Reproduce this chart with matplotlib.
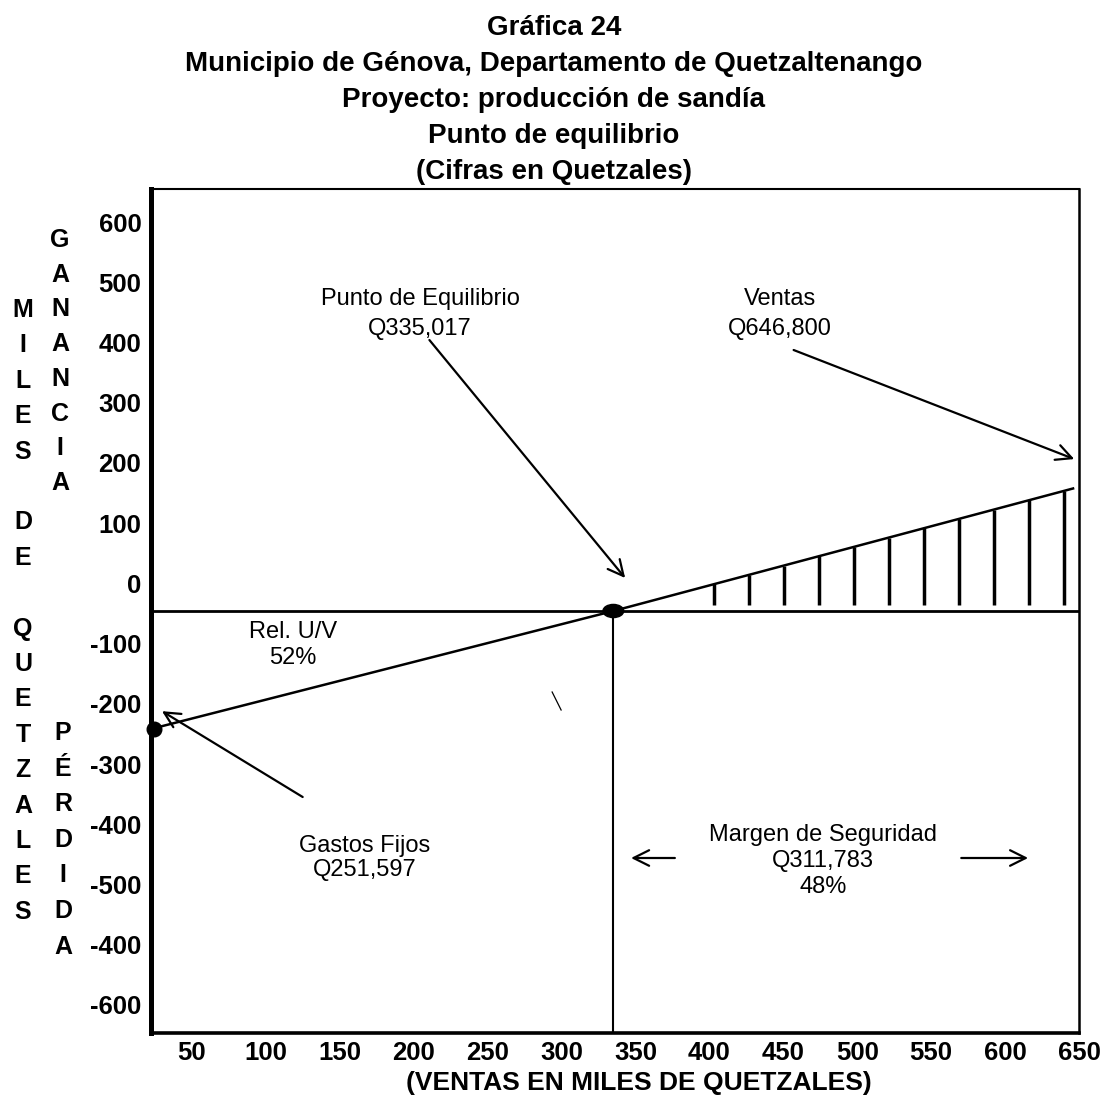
import numpy as np
import matplotlib
matplotlib.use("Agg")
import matplotlib.pyplot as plt
from matplotlib.patches import Ellipse
from matplotlib.lines import Line2D

plt.rcParams['font.family'] = ['Liberation Sans', 'DejaVu Sans']

# ---- data (miles de quetzales) ----
gastos_fijos = 251.597
punto_equilibrio = 335.017
ventas = 646.8
margen_seguridad = 311.783
margen_pct = 48
rel_uv_pct = 52
utilidad_final = 262.0          # height of the profit line at the sales point

x_ticks = [50, 100, 150, 200, 250, 300, 350, 400, 450, 500, 550, 600, 650]
x_labels = [str(v) for v in x_ticks]
y_labels = ['600', '500', '400', '300', '200', '100', '0',
            '-100', '-200', '-300', '-400', '-500', '-400', '-600']

titulo = ["Gráfica 24",
          "Municipio de Génova, Departamento de Quetzaltenango",
          "Proyecto: producción de sandía",
          "Punto de equilibrio",
          "(Cifras en Quetzales)"]

# ---- figure / layout helpers ----
W, H = 1108, 1100
fig = plt.figure(figsize=(W / 100, H / 100), dpi=100)
AX_L, AX_R, AX_T, AX_B = 151, 1079, 189, 1033
ax = fig.add_axes([AX_L / W, 1 - AX_B / H, (AX_R - AX_L) / W, (AX_B - AX_T) / H])

XMIN, XMAX = 22.3, 648.65
YMIN, YMAX = -900, 900
ax.set_xlim(XMIN, XMAX)
ax.set_ylim(YMIN, YMAX)


def fx(px):
    return px / W


def fy(py):
    return 1 - py / H


def data_y(py):
    return YMAX - (py - AX_T) / (AX_B - AX_T) * (YMAX - YMIN)


def data_x(px):
    return XMIN + (px - AX_L) / (AX_R - AX_L) * (XMAX - XMIN)


# ---- frame ----
for side, lw in (('left', 3.6), ('bottom', 2.6), ('top', 1.5), ('right', 1.8)):
    ax.spines[side].set_linewidth(lw)
    ax.spines[side].set_color('black')

ax.set_xticks(x_ticks)
ax.set_xticklabels(x_labels)
ax.set_yticks([data_y(p) for p in np.linspace(222, 1005, len(y_labels))])
ax.set_yticklabels(y_labels)
ax.tick_params(length=0, labelsize=18.5, pad=7)
ax.tick_params(axis='x', pad=6)
for lab in ax.get_xticklabels() + ax.get_yticklabels():
    lab.set_fontweight('bold')
for lab in ax.get_xticklabels():
    lab.set_clip_on(False)

# ---- break-even chart ----
ax.axhline(0, color='black', lw=2.0, zorder=2)
ax.plot([XMIN, punto_equilibrio, ventas], [-gastos_fijos, 0, utilidad_final],
        color='black', lw=1.8, solid_capstyle='butt', zorder=3, clip_on=False)
ax.plot([punto_equilibrio, punto_equilibrio], [YMIN, 0], color='black', lw=1.5, zorder=2)

# profit area hatching
hx = np.arange(403, 641, 23.7)
h_top = np.interp(hx, [punto_equilibrio, ventas], [0, utilidad_final])
ax.vlines(hx, 12, h_top, color='black', lw=2.5, zorder=2)

# markers: fixed costs and break-even point
ax.plot([XMIN + 2], [-gastos_fijos], marker='o', ms=10.5, color='black',
        clip_on=False, zorder=5)
ax.add_patch(Ellipse((punto_equilibrio, 0), 14, 28, color='black', zorder=5))

# ---- annotations ----
ann = dict(fontsize=17, ha='center', va='center')
fig.text(fx(420), fy(314), "Punto de Equilibrio\nQ335,017", linespacing=1.5, **ann)
fig.text(fx(780), fy(314), "Ventas\nQ646,800", linespacing=1.5, **ann)
fig.text(fx(293), fy(645), f"Rel. U/V\n{rel_uv_pct}%", linespacing=1.2, **ann)
fig.text(fx(365), fy(858), "Gastos Fijos\nQ251,597", linespacing=1.15, **ann)
fig.text(fx(823), fy(861), f"Margen de Seguridad\nQ311,783\n{margen_pct}%",
         linespacing=1.25, **ann)

arr = dict(arrowstyle='->', color='black', lw=1.6, mutation_scale=28, shrinkA=0, shrinkB=0)
ax.annotate('', xy=(punto_equilibrio + 8, data_y(578)), xytext=(data_x(430), data_y(340)),
            arrowprops=arr)
ax.annotate('', xy=(ventas, utilidad_final + 62), xytext=(data_x(795), data_y(350)),
            arrowprops=arr, annotation_clip=False)
ax.annotate('', xy=(data_x(162), -gastos_fijos + 38), xytext=(data_x(303), data_y(797)),
            arrowprops=arr)
ax.annotate('', xy=(punto_equilibrio + 12, data_y(858)), xytext=(data_x(676), data_y(858)),
            arrowprops=arr)
ax.annotate('', xy=(data_x(1030), data_y(858)), xytext=(data_x(963), data_y(858)),
            arrowprops=arr)

# small stray pen stroke in the loss area
ax.add_line(Line2D([data_x(553), data_x(562)], [data_y(692), data_y(710)],
                   color='black', lw=0.9))

# ---- titles and axis captions ----
for i, linea in enumerate(titulo):
    fig.text(0.5, fy(28 + 36 * i), linea, fontsize=20, fontweight='bold',
             ha='center', va='center')

fig.text(fx(639), fy(1083), "(VENTAS EN MILES DE QUETZALES)", fontsize=19,
         fontweight='bold', ha='center', va='center')


def columna(texto, x, y0, dy=35.4):
    for i, ch in enumerate(texto):
        if ch != ' ':
            fig.text(fx(x), fy(y0 + dy * i), ch, fontsize=18, fontweight='bold',
                     ha='center', va='center')


columna("MILES DE QUETZALES", 23, 310)
columna("GANANCIA", 60, 240, 34.7)
columna("PÉRDIDA", 63, 733, 35.6)

fig.savefig("out.png", dpi=100)
